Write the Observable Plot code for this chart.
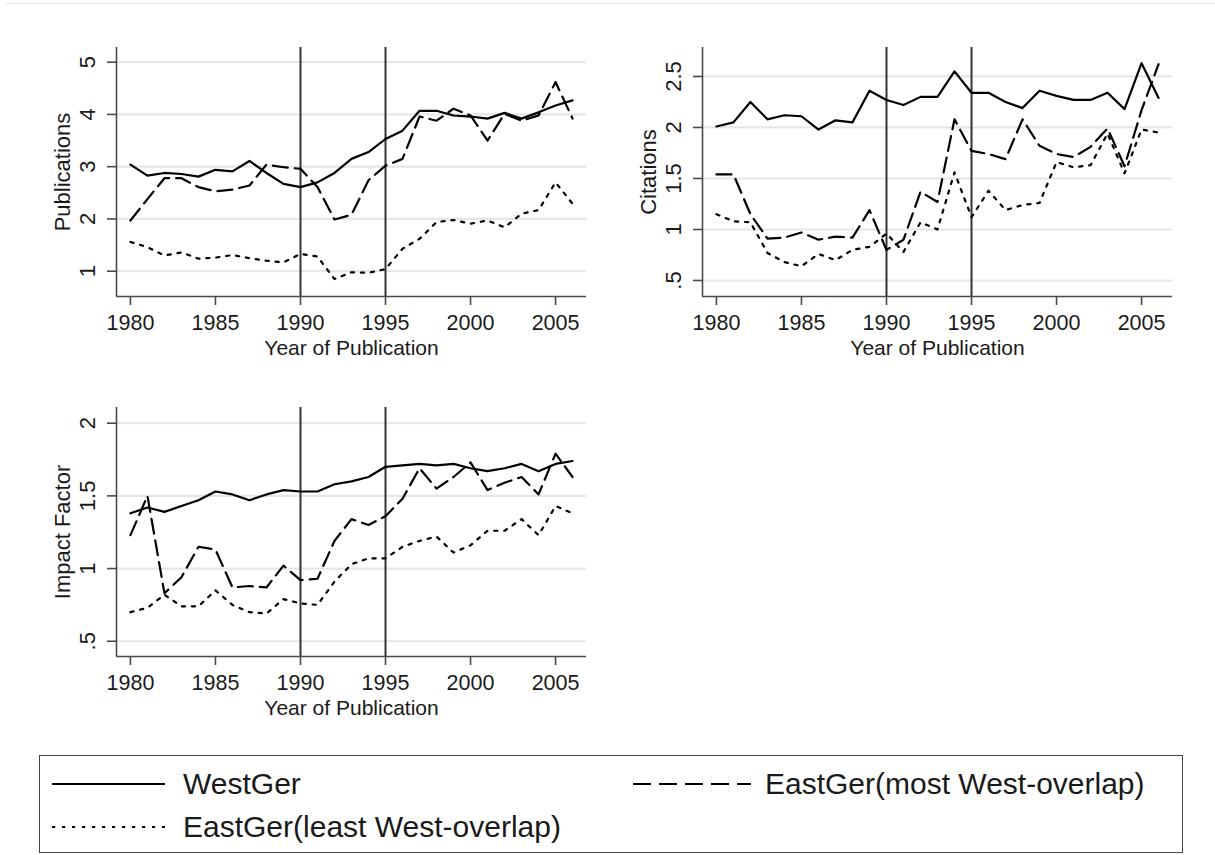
<!DOCTYPE html>
<html>
<head>
<meta charset="utf-8">
<script src="https://cdn.jsdelivr.net/npm/d3@7"></script>
<script src="https://cdn.jsdelivr.net/npm/@observablehq/plot@0.6"></script>
<style>
  html, body { margin: 0; padding: 0; background: #fff; }
  body { width: 1215px; height: 855px; position: relative; overflow: hidden; font-family: "Liberation Sans", Arial, sans-serif; color: #1a1a1a; }
  .panel { position: absolute; }
  .topline { position: absolute; left: 6px; top: 3px; width: 1209px; height: 1px; background: #e3e8ec; }
  .legend { position: absolute; left: 39px; top: 755px; width: 1144px; height: 98px; border: 1.5px solid #444; box-sizing: border-box; }
  .legend .item { position: absolute; display: flex; align-items: center; height: 36px; font-size: 30px; line-height: 36px; white-space: nowrap; }
  .legend svg { display: block; }
</style>
</head>
<body>
<div class="topline"></div>
<div id="p1" class="panel" style="left:0px;top:0px"></div>
<div id="p2" class="panel" style="left:586px;top:0px"></div>
<div id="p3" class="panel" style="left:0px;top:360px"></div>
<div class="legend" id="legend"></div>
<script>
// ---------- data ----------
const years = [1980,1981,1982,1983,1984,1985,1986,1987,1988,1989,1990,1991,1992,1993,1994,1995,1996,1997,1998,1999,2000,2001,2002,2003,2004,2005,2006];

const pubWest  = [3.04,2.83,2.88,2.86,2.81,2.94,2.91,3.11,2.88,2.67,2.61,2.70,2.88,3.15,3.28,3.53,3.69,4.07,4.07,3.98,3.96,3.92,4.03,3.92,4.04,4.17,4.27];
const pubMost  = [1.97,2.38,2.78,2.78,2.61,2.53,2.56,2.64,3.04,2.99,2.96,2.61,1.99,2.08,2.74,3.02,3.15,3.96,3.88,4.11,3.98,3.50,4.01,3.88,3.98,4.62,3.92];
const pubLeast = [1.56,1.46,1.30,1.36,1.24,1.26,1.31,1.25,1.20,1.17,1.33,1.28,0.85,0.98,0.97,1.04,1.43,1.62,1.94,1.98,1.91,1.97,1.84,2.10,2.17,2.70,2.29];

const citWest  = [2.01,2.05,2.25,2.08,2.12,2.11,1.98,2.07,2.05,2.36,2.27,2.22,2.30,2.30,2.55,2.34,2.34,2.25,2.19,2.36,2.31,2.27,2.27,2.34,2.18,2.63,2.29];
const citMost  = [1.54,1.54,1.15,0.91,0.92,0.97,0.90,0.93,0.92,1.19,0.80,0.90,1.37,1.27,2.08,1.77,1.74,1.69,2.08,1.82,1.74,1.71,1.81,1.99,1.62,2.17,2.62];
const citLeast = [1.15,1.08,1.07,0.77,0.68,0.64,0.76,0.70,0.80,0.83,0.96,0.78,1.07,1.00,1.56,1.12,1.38,1.19,1.24,1.26,1.66,1.61,1.63,1.94,1.55,1.98,1.95];

const impWest  = [1.38,1.42,1.39,1.43,1.47,1.53,1.51,1.47,1.51,1.54,1.53,1.53,1.58,1.60,1.63,1.70,1.71,1.72,1.71,1.72,1.69,1.67,1.69,1.72,1.67,1.72,1.74];
const impMost  = [1.23,1.50,0.83,0.94,1.15,1.13,0.87,0.88,0.87,1.02,0.92,0.93,1.19,1.34,1.30,1.36,1.48,1.69,1.55,1.63,1.73,1.54,1.59,1.63,1.51,1.79,1.63];
const impLeast = [0.70,0.73,0.82,0.74,0.74,0.85,0.75,0.70,0.69,0.79,0.76,0.75,0.91,1.03,1.07,1.07,1.15,1.19,1.22,1.11,1.16,1.26,1.26,1.34,1.23,1.43,1.38];

const xTicks = [1980,1985,1990,1995,2000,2005];
const refYears = [1990,1995];
const pubTicks = [1,2,3,4,5];
const pubTickLabels = ["1","2","3","4","5"];
const citTicks = [0.5,1,1.5,2,2.5];
const citTickLabels = [".5","1","1.5","2","2.5"];
const impTicks = [0.5,1,1.5,2];
const impTickLabels = [".5","1","1.5","2"];

const seriesNames = ["WestGer","EastGer(most West-overlap)","EastGer(least West-overlap)"];
const xLabel = "Year of Publication";

// ---------- drawing ----------
const dashes = {"WestGer": null, "EastGer(most West-overlap)": "15,7", "EastGer(least West-overlap)": "3.2,6.8"};
const font = "'Liberation Sans', Arial, sans-serif";

function panel(el, yLabel, yDomain, ticks, tickLabels, west, most, least) {
  const rows = s => years.map((yr, i) => ({year: yr, value: s[i]}));
  const xDomain = [1979.18, 2006.82];
  const series = [[seriesNames[0], west], [seriesNames[1], most], [seriesNames[2], least]];
  const plot = Plot.plot({
    width: 600, height: 380,
    marginLeft: 116, marginRight: 14, marginTop: 47, marginBottom: 84,
    style: {fontFamily: font, fontSize: "22px", color: "#1a1a1a", background: "transparent", overflow: "visible"},
    x: {domain: xDomain, axis: null},
    y: {domain: yDomain, axis: null},
    marks: [
      Plot.ruleY(ticks, {stroke: "#e6e6e6", strokeWidth: 2.2}),
      Plot.ruleX(refYears, {stroke: "#333", strokeWidth: 2}),
      Plot.ruleX([xDomain[0]], {stroke: "#4a4a4a", strokeWidth: 1.6}),
      Plot.ruleY([yDomain[0]], {stroke: "#4a4a4a", strokeWidth: 1.6}),
      Plot.axisY({ticks, tickSize: 9, tickFormat: () => "", label: null, stroke: "#4a4a4a", strokeWidth: 1.6}),
      Plot.axisX({ticks: xTicks, tickSize: 9, tickFormat: () => "", label: null, stroke: "#4a4a4a", strokeWidth: 1.6}),
      Plot.text(ticks, {y: d => d, text: (d, i) => tickLabels[i], frameAnchor: "left", rotate: -90, dx: -29, textAnchor: "middle", lineAnchor: "middle", fontSize: 22, fill: "#1a1a1a"}),
      Plot.text(xTicks, {x: d => d, text: d => String(d), frameAnchor: "bottom", dy: 26.5, lineAnchor: "middle", fontSize: 21.5, fill: "#1a1a1a"}),
      Plot.text([xLabel], {text: d => d, frameAnchor: "bottom", dy: 52, lineAnchor: "middle", fontSize: 21, fill: "#1a1a1a"}),
      Plot.text([yLabel], {text: d => d, frameAnchor: "left", rotate: -90, dx: -54, textAnchor: "middle", lineAnchor: "middle", fontSize: 22, fill: "#1a1a1a"}),
      ...series.map(([name, vals]) => Plot.line(rows(vals), {x: "year", y: "value", stroke: "#000", strokeWidth: 2.2, strokeDasharray: dashes[name], strokeLinejoin: "round"}))
    ]
  });
  document.getElementById(el).appendChild(plot);
}

panel("p1", "Publications", [0.516, 5.281], pubTicks, pubTickLabels, pubWest, pubMost, pubLeast);
panel("p2", "Citations", [0.343, 2.784], citTicks, citTickLabels, citWest, citMost, citLeast);
panel("p3", "Impact Factor", [0.395, 2.108], impTicks, impTickLabels, impWest, impMost, impLeast);

// ---------- legend ----------
const legend = document.getElementById("legend");
const legendPos = [
  {name: seriesNames[0], left: 12, top: 10, len: 113, gap: 18},
  {name: seriesNames[1], left: 593, top: 10, len: 118, gap: 14},
  {name: seriesNames[2], left: 12, top: 53, len: 113, gap: 18}
];
legendPos.forEach(p => {
  const div = document.createElement("div");
  div.className = "item";
  div.style.left = p.left + "px";
  div.style.top = p.top + "px";
  const dash = dashes[p.name];
  div.innerHTML = `<svg width="${p.len}" height="10" style="margin-right:${p.gap}px"><line x1="0" x2="${p.len}" y1="5" y2="5" stroke="#000" stroke-width="2.2" ${dash ? `stroke-dasharray="${p.name.includes('most') ? '18,8' : '3.2,6.8'}"` : ""}/></svg><span>${p.name}</span>`;
  legend.appendChild(div);
});
</script>
</body>
</html>
